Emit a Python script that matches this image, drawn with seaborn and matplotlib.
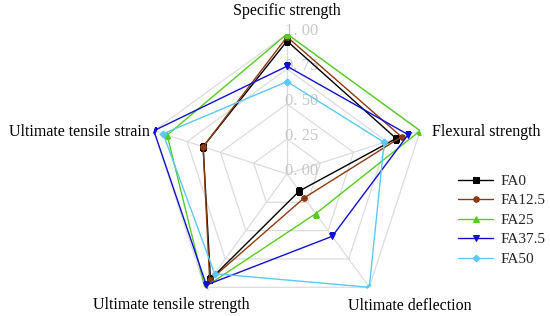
import numpy as np
import matplotlib
matplotlib.use("Agg")
import matplotlib.pyplot as plt
import matplotlib.transforms as mtransforms
import seaborn as sns

# spokes, clockwise from the top
axis_labels = ["Specific strength", "Flexural strength", "Ultimate deflection",
               "Ultimate tensile strength", "Ultimate tensile strain"]
grid_levels = [0.25, 0.50, 0.75, 1.00]
tick_values = [0.00, 0.25, 0.50, 0.75, 1.00]
tick_labels = ["0. 00", "0. 25", "0. 50", "0. 75", "1. 00"]

series_names = ["FA0", "FA12.5", "FA25", "FA37.5", "FA50"]
fa0 = [0.95, 0.82, 0.15, 0.93, 0.63]
fa12_5 = [0.98, 0.86, 0.21, 0.94, 0.63]
fa25 = [1.00, 1.00, 0.35, 1.00, 0.90]
fa37_5 = [0.77, 0.91, 0.55, 0.98, 1.00]
fa50 = [0.66, 0.73, 1.00, 0.88, 0.93]
series_values = [fa0, fa12_5, fa25, fa37_5, fa50]

colors = ["#000000", "#8b3a0f", "#55cc22", "#1010d0", "#5cc8f5"]
markers = ["s", "o", "^", "v", "D"]
marker_sizes = [4, 4, 5, 5, 3.5]


def main():
    sns.set_theme(style="white")
    plt.rcParams['font.family'] = ['Liberation Serif', 'DejaVu Serif']

    fig = plt.figure(figsize=(5.5, 3.16), dpi=100)
    # centre at (287, 174) px, radius 140 px
    ax = fig.add_axes([147 / 550, (316 - 174 - 140) / 316, 280 / 550, 280 / 316],
                      projection='polar')
    ax.set_theta_offset(np.pi / 2)
    ax.set_theta_direction(-1)
    ax.set_ylim(0, 1)
    ax.grid(False)
    ax.spines['polar'].set_visible(False)
    ax.set_xticks([])
    ax.set_yticks([])
    ax.set_facecolor('none')

    n = len(axis_labels)
    theta = list(np.linspace(0, 2 * np.pi, n, endpoint=False))
    theta_closed = theta + [2 * np.pi]

    grid_color = '#dcdcdc'
    for level in grid_levels:
        ax.plot(theta_closed, [level] * (n + 1), color=grid_color, lw=0.9, zorder=0)
    for t in theta:
        ax.plot([t, t], [0, 1], color=grid_color, lw=0.9, zorder=0)

    for name, vals, c, m, ms in zip(series_names, series_values, colors, markers, marker_sizes):
        sns.lineplot(x=theta_closed, y=vals + vals[:1], ax=ax, sort=False, estimator=None,
                     color=c, marker=m, markersize=ms, markeredgecolor=c,
                     linewidth=1.0, label=name)

    # radial tick labels next to the top spoke
    tick_tr = mtransforms.offset_copy(ax.transData, fig=fig, x=-2, y=3, units='dots')
    for v, lab in zip(tick_values, tick_labels):
        ax.text(0, v, lab, transform=tick_tr, ha='left', va='center',
                fontsize=12, color='#c8c8c8', zorder=1)

    # spoke labels: (dx, dy) offsets in pixels from each outer vertex
    label_offsets = [(0, 23, 'center'), (12, -1, 'left'), (41, -19, 'center'),
                     (-33, -18, 'center'), (-4, -1, 'right')]
    for t, lab, (dx, dy, ha) in zip(theta, axis_labels, label_offsets):
        tr = mtransforms.offset_copy(ax.transData, fig=fig, x=dx, y=dy, units='dots')
        ax.text(t, 1.0, lab, transform=tr, ha=ha, va='center', fontsize=11.5,
                color='black', clip_on=False)

    handles, labels = ax.get_legend_handles_labels()
    ax.legend(handles, labels, loc='center left', bbox_to_anchor=(458 / 550, 1 - 220 / 316),
              bbox_transform=fig.transFigure, frameon=False, fontsize=11,
              handlelength=2.3, handletextpad=0.5, labelspacing=0.38, borderpad=0,
              borderaxespad=0)

    fig.savefig('out.png', dpi=100)
    plt.close(fig)


if __name__ == "__main__":
    main()
